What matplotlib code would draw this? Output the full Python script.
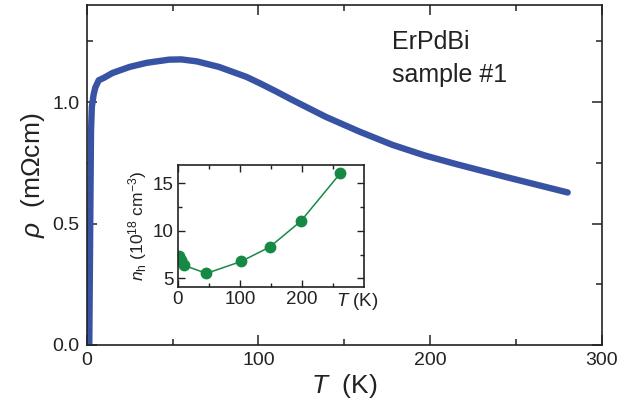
import numpy as np
import matplotlib
matplotlib.use('Agg')
import matplotlib.pyplot as plt

plt.rcParams['font.family'] = ['Liberation Sans', 'DejaVu Sans']
plt.rcParams['mathtext.fontset'] = 'custom'
plt.rcParams['mathtext.rm'] = 'Liberation Sans'
plt.rcParams['mathtext.it'] = 'Liberation Sans:italic'

# 抵抗率カーブ (T [K], rho [mOhm cm])
T_rho = [1.5, 2.0, 2.5, 3.0, 4.0, 5.0, 7.0, 10, 15, 25, 35, 48, 55, 64, 77,
         93, 101, 110, 120, 139, 159, 178, 197, 215, 245, 280]
rho = [0.0, 0.45, 0.88, 0.98, 1.03, 1.06, 1.09, 1.10, 1.12, 1.145, 1.162,
       1.175, 1.176, 1.168, 1.145, 1.104, 1.077, 1.045, 1.008, 0.94, 0.878,
       0.824, 0.780, 0.745, 0.69, 0.628]

# ホール濃度 (インセット)
T_n = [2, 5, 10, 46, 102, 148, 198, 262]
n_h = [7.35, 6.9, 6.37, 5.53, 6.79, 8.3, 11.0, 16.05]

blue = '#3953a4'
green = '#168a44'

fig = plt.figure(figsize=(6.26, 4.16), dpi=100)
ax = fig.add_axes([0.1385, 0.1707, 0.8232, 0.8173])
ax.plot(T_rho, rho, color=blue, lw=4.6, solid_capstyle='round')
ax.set_xlim(0, 300)
ax.set_ylim(0, 1.4)
ax.set_xticks([0, 100, 200, 300])
ax.set_xticks([50, 150, 250], minor=True)
ax.set_yticks([0.0, 0.5, 1.0])
ax.set_yticks([0.25, 0.75, 1.25], minor=True)
ax.set_yticklabels(['0.0', '0.5', '1.0'])
ax.tick_params(which='both', direction='in', top=True, right=True,
               labelsize=14, width=1.1, color='#222222', labelcolor='#222222')
ax.tick_params(which='major', length=7, pad=5)
ax.tick_params(which='minor', length=4)
for s in ax.spines.values():
    s.set_linewidth(1.2)
    s.set_color('#222222')
ax.set_xlabel(r'$\mathit{T}$  (K)', fontsize=19, color='#222222', labelpad=2)
ax.set_ylabel(r'$\mathit{\rho}$  (m$\Omega$cm)', fontsize=19, color='#222222', labelpad=4)
ax.text(0.592, 0.871, 'ErPdBi', transform=ax.transAxes, fontsize=18,
        color='#222222', va='baseline', ha='left')
ax.text(0.592, 0.774, 'sample #1', transform=ax.transAxes, fontsize=18,
        color='#222222', va='baseline', ha='left')

# インセット
ins = fig.add_axes([0.2843, 0.310, 0.2972, 0.2933])
ins.plot(T_n, n_h, color=green, lw=1.1, marker='o', ms=7.5, mec=green, mfc=green)
ins.set_xlim(0, 300)
ins.set_ylim(4.1, 16.9)
ins.set_xticks([0, 100, 200])
ins.set_xticks([50, 150, 250], minor=True)
ins.set_yticks([5, 10, 15])
ins.set_yticks([7.5, 12.5], minor=True)
ins.tick_params(which='both', direction='in', top=True, right=True,
                labelsize=13.5, width=1.0, color='#222222', labelcolor='#222222')
ins.tick_params(which='major', length=5, pad=3)
ins.tick_params(which='minor', length=3)
for s in ins.spines.values():
    s.set_linewidth(1.2)
    s.set_color('#222222')
ins.text(0.965, -0.03, r'$\mathit{T}$ (K)', transform=ins.transAxes, fontsize=13.5,
         color='#222222', ha='center', va='top')
ins.set_ylabel(r'$\mathit{n}_{\rm h}$ (10$^{18}$ cm$^{-3}$)', fontsize=12.5,
               color='#222222', labelpad=3)

fig.savefig('out.png', dpi=100)
